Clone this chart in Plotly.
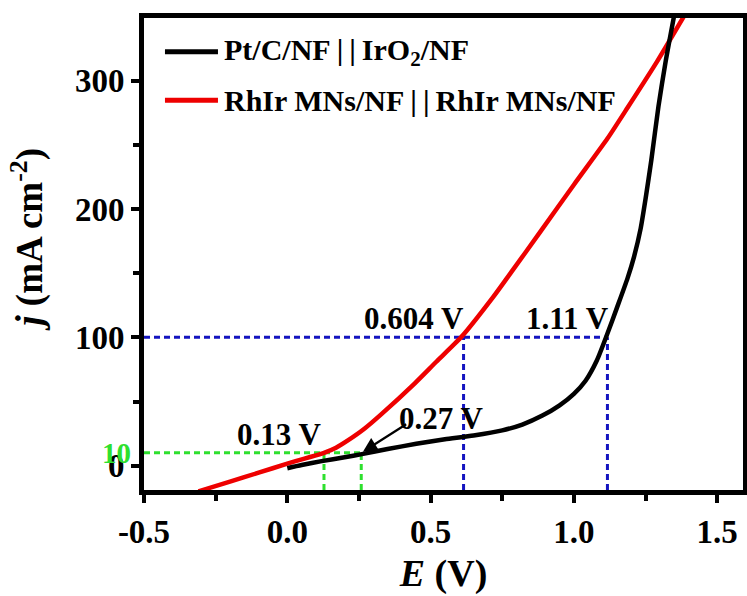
import plotly.graph_objects as go

# ---------------- data ----------------
E_pt = [0.0, 0.05, 0.12, 0.2, 0.26, 0.35, 0.45, 0.55, 0.65, 0.75, 0.82, 0.89, 0.95, 1.0,
        1.04, 1.08, 1.117, 1.15, 1.187, 1.21, 1.233, 1.25, 1.27, 1.295, 1.32, 1.349]
j_pt = [-2, 0.5, 3.5, 6.5, 9, 13, 17, 20.5, 23.5, 27.5, 32, 39, 47, 56,
        66, 82, 103, 123, 146, 163, 185, 208, 238, 280, 315, 350]

E_rh = [-0.31, -0.2, -0.1, 0.0, 0.06, 0.1, 0.128, 0.17, 0.21, 0.27, 0.3275, 0.444, 0.52, 0.606,
        0.72, 0.769, 0.885, 1.0, 1.117, 1.187, 1.29, 1.383]
j_rh = [-20, -12.5, -5.5, 1.5, 5.5, 8, 10, 14, 19.5, 29, 40, 64, 81, 100,
        132, 147, 183, 219, 255, 279, 315, 350]

series_names = ["Pt/C/NF\u2009|\u2009|\u2009IrO<sub>2</sub>/NF",
                "RhIr MNs/NF\u2009|\u2009|\u2009RhIr MNs/NF"]

# reference markers
j_high = 100
E_high = [0.615, 1.117]
j_low = 10
E_low = [0.128, 0.258]
labels_high = ["0.604 V", "1.11 V"]
labels_low = ["0.13 V", "0.27 V"]

x_ticks = [-0.5, 0.0, 0.5, 1.0, 1.5]
x_ticktext = ["-0.5", "0.0", "0.5", "1.0", "1.5"]
y_ticks = [0, 100, 200, 300]
y_ticktext = ["0", "100", "200", "300"]

X_RANGE = [-0.5, 1.59]
Y_RANGE = [-19, 349]

FONT = "Liberation Serif, Times New Roman, serif"
BLUE = "#1414c0"
GREEN = "#2ee02e"

fig = go.Figure()

# dashed guide lines
fig.add_trace(go.Scatter(x=[X_RANGE[0], E_high[1]], y=[j_high, j_high], mode="lines",
                         line=dict(color=BLUE, width=3, dash="6px,4px"), showlegend=False))
for e in E_high:
    fig.add_trace(go.Scatter(x=[e, e], y=[Y_RANGE[0], j_high], mode="lines",
                             line=dict(color=BLUE, width=3, dash="6px,4px"), showlegend=False))
fig.add_trace(go.Scatter(x=[X_RANGE[0], E_low[1]], y=[j_low, j_low], mode="lines",
                         line=dict(color=GREEN, width=3, dash="6px,4px"), showlegend=False))
for e in E_low:
    fig.add_trace(go.Scatter(x=[e, e], y=[Y_RANGE[0], j_low], mode="lines",
                             line=dict(color=GREEN, width=3, dash="6px,4px"), showlegend=False))

# curves
fig.add_trace(go.Scatter(x=E_rh, y=j_rh, mode="lines",
                         line=dict(color="#ee0000", width=4.5, shape="spline", smoothing=0.6),
                         showlegend=False))
fig.add_trace(go.Scatter(x=E_pt, y=j_pt, mode="lines",
                         line=dict(color="black", width=4.5, shape="spline", smoothing=0.6),
                         showlegend=False))

# manual legend
leg_colors = ["black", "#ee0000"]
leg_y = [0.9286, 0.826]
for name, c, yy in zip(series_names, leg_colors, leg_y):
    fig.add_shape(type="line", xref="paper", yref="paper", x0=0.035, x1=0.1235, y0=yy, y1=yy,
                  line=dict(color=c, width=5))
    fig.add_annotation(xref="paper", yref="paper", x=0.13, y=yy, text="<b>" + name + "</b>",
                       showarrow=False, xanchor="left", yanchor="middle",
                       font=dict(family=FONT, size=30, color="black"))

# value annotations
ann_font = dict(family=FONT, size=31, color="black")
fig.add_annotation(x=0.442, y=114.5, text="<b>" + labels_high[0] + "</b>", showarrow=False, font=ann_font)
fig.add_annotation(x=0.979, y=114.5, text="<b>" + labels_high[1] + "</b>", showarrow=False, font=ann_font)
fig.add_annotation(x=-0.028, y=24.6, text="<b>" + labels_low[0] + "</b>", showarrow=False, font=ann_font)
fig.add_annotation(x=0.537, y=37, text="<b>" + labels_low[1] + "</b>", showarrow=False, font=ann_font)
# arrow
fig.add_annotation(x=0.264, y=10.8, ax=0.42, ay=33, axref="x", ayref="y", xref="x", yref="y",
                   text="", showarrow=True, arrowhead=2, arrowsize=1.3, arrowwidth=2.2, arrowcolor="black")
# green 10 label
fig.add_annotation(xref="paper", yref="y", x=-0.018, y=j_low, text="<b>10</b>", showarrow=False,
                   xanchor="right", yanchor="middle", font=dict(family=FONT, size=29, color=GREEN))

# y-axis title (placed as annotation for exact position)
fig.add_annotation(xref="paper", yref="paper", x=-0.194, y=0.532, textangle=-90,
                   text="<b><i>j</i> (mA cm<sup>-2</sup>)</b>", showarrow=False,
                   xanchor="center", yanchor="middle",
                   font=dict(family=FONT, size=37, color="black"))

axis_common = dict(showline=True, linecolor="black", linewidth=5, mirror=True,
                   ticks="outside", ticklen=8, tickwidth=4, tickcolor="black",
                   showgrid=False, zeroline=False,
                   tickfont=dict(family=FONT, size=33, color="black", weight="bold"))

fig.update_xaxes(range=X_RANGE, tickmode="array", tickvals=x_ticks, ticktext=x_ticktext,
                 minor=dict(dtick=0.25, tick0=0, ticks="outside", ticklen=6, tickwidth=4, tickcolor="black"),
                 title=dict(text="<b><i>E</i> (V)</b>", font=dict(family=FONT, size=38, color="black"),
                            standoff=12),
                 **axis_common)
fig.update_yaxes(range=Y_RANGE, tickmode="array", tickvals=y_ticks, ticktext=y_ticktext,
                 minor=dict(dtick=50, tick0=0, ticks="outside", ticklen=6, tickwidth=4, tickcolor="black"),
                 **axis_common)

fig.update_layout(width=747, height=596, margin=dict(l=144, r=4, t=18, b=106, autoexpand=False),
                  plot_bgcolor="white", paper_bgcolor="white", showlegend=False)

fig.write_html("out.html")
